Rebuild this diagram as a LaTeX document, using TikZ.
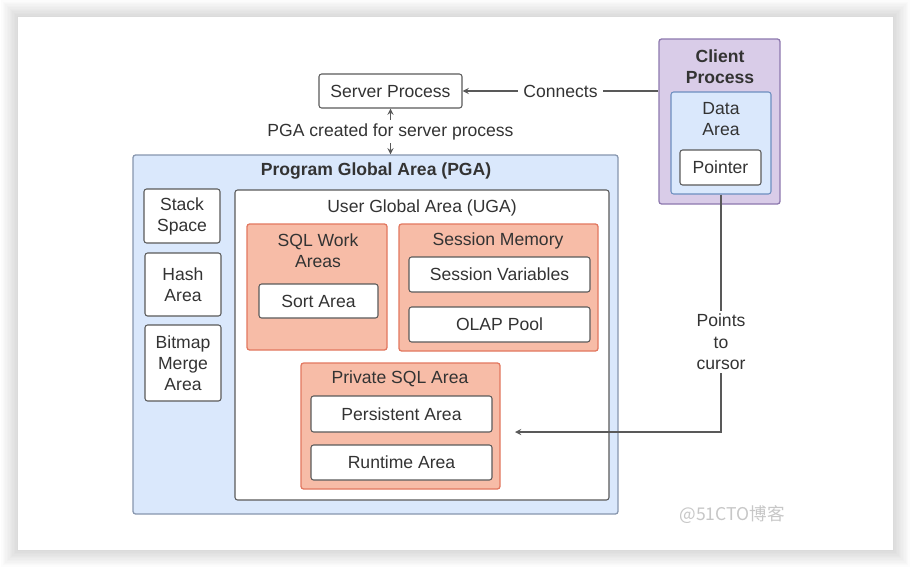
\documentclass[tikz,border=0pt]{standalone}
\usepackage{fontspec}
\setmainfont{Liberation Sans}
\newfontfamily\cjkfont{Noto Sans CJK SC}
\usepackage{xcolor}
\usetikzlibrary{positioning}

\definecolor{txtgray}{HTML}{333333}
\definecolor{boxline}{HTML}{5A5A5A}
\definecolor{pgafill}{HTML}{DAE8FC}
\definecolor{pgaline}{HTML}{8796AE}
\definecolor{salmon}{HTML}{F7BCA7}
\definecolor{salmonline}{HTML}{E2775F}
\definecolor{clientfill}{HTML}{D9CCE8}
\definecolor{clientline}{HTML}{8D78AE}
\definecolor{dataline}{HTML}{6C8EBF}

\tikzset{
  every node/.style={font=\fontsize{10}{12}\selectfont, text=txtgray},
  sz/.style 2 args={minimum width=#1*0.02cm, minimum height=#2*0.02cm, inner sep=0pt},
  plainbox/.style={draw=boxline, fill=white, rounded corners=1.5pt, line width=0.6pt, align=center},
  pgabox/.style={draw=pgaline, fill=pgafill, rounded corners=1.5pt, line width=0.7pt},
  workbox/.style={draw=salmonline, fill=salmon, rounded corners=1.5pt, line width=0.7pt},
  clientbox/.style={draw=clientline, fill=clientfill, rounded corners=1.5pt, line width=0.7pt},
  databox/.style={draw=dataline, fill=pgafill, rounded corners=1.5pt, line width=0.6pt},
  title/.style={align=center, inner sep=0pt},
  link/.style={draw=black!65, line width=0.6pt},
  >=stealth
}

\begin{document}
\begin{tikzpicture}[x=0.02cm,y=-0.02cm]
    \useasboundingbox (0,0) rectangle (912,568);
    \fill[white] (0,0) rectangle (912,568);
    % card with soft shadow
    \foreach \i in {1,...,12}
      \draw[black, opacity=0.011, line width=\i*1.6] (18,17) rectangle (893,550);
    \fill[white] (18,17) rectangle (893,550);

    \node[plainbox, sz={143}{34}] (srv) at (390.5,91) {Server Process};

    % PGA
    \node[pgabox, sz={485}{359}] (pga) at (375.5,334.5) {};
    \node[title, font=\fontsize{10}{12}\selectfont\bfseries] (pgatitle) at (376,171) {Program Global Area (PGA)};
    \node[plainbox, sz={76}{54}] (stack) at (182,216) {Stack\\Space};
    \node[plainbox, sz={76}{63}] (hash) at (183,284.5) {Hash\\Area};
    \node[plainbox, sz={76}{76}] (bitmap) at (183,363) {Bitmap\\Merge\\Area};

    % UGA
    \node[plainbox, sz={374}{310}] (uga) at (422,345) {};
    \node[title] (ugatitle) at (422,208) {User Global Area (UGA)};

    \node[workbox, sz={140}{126}] (sqlwork) at (317,287) {};
    \node[title] (sqlworktitle) at (318,251) {SQL Work\\Areas};
    \node[plainbox, sz={119}{34}] (sort) at (318.5,301) {Sort Area};

    \node[workbox, sz={199}{127}] (sessmem) at (498.5,287.5) {};
    \node[title] (sessmemtitle) at (498,241) {Session Memory};
    \node[plainbox, sz={181}{35}] (sessvar) at (499.5,274.5) {Session Variables};
    \node[plainbox, sz={181}{35}] (olap) at (499.5,324.5) {OLAP Pool};

    \node[workbox, sz={199}{126}] (private) at (400.5,426) {};
    \node[title] (privatetitle) at (400,379) {Private SQL Area};
    \node[plainbox, sz={181}{36}] (persist) at (401.5,414) {Persistent Area};
    \node[plainbox, sz={181}{35}] (runtime) at (401.5,462.5) {Runtime Area};

    % client side
    \node[clientbox, sz={121}{165}] (client) at (719.5,121.5) {};
    \node[title, font=\fontsize{10}{12}\selectfont\bfseries] (clienttitle) at (720,66.5) {Client\\Process};
    \node[databox, sz={100}{102}] (data) at (721,143) {};
    \node[title] (datatitle) at (721,119) {Data\\Area};
    \node[plainbox, sz={81}{35}] (pointer) at (720.5,167.5) {Pointer};

    \coordinate (cursorpt) at (515,432);

    % connectors
    \draw[link,->] (srv.east -| client.west) -- (srv.east)
      node[midway, fill=white, inner sep=3pt] {Connects};
    \draw[link,<->] (srv.south) -- (srv.south |- pga.north)
      node[midway, fill=white, inner sep=2pt] {PGA created for server process};
    \draw[link,->] (data.south) |- (cursorpt)
      node[pos=0.31, fill=white, align=center, inner sep=2pt] {Points\\to\\cursor};

    \node[font=\cjkfont\fontsize{10}{12}\selectfont, text=black!22] (mark) at (732,515) {@51CTO博客};
\end{tikzpicture}
\end{document}
